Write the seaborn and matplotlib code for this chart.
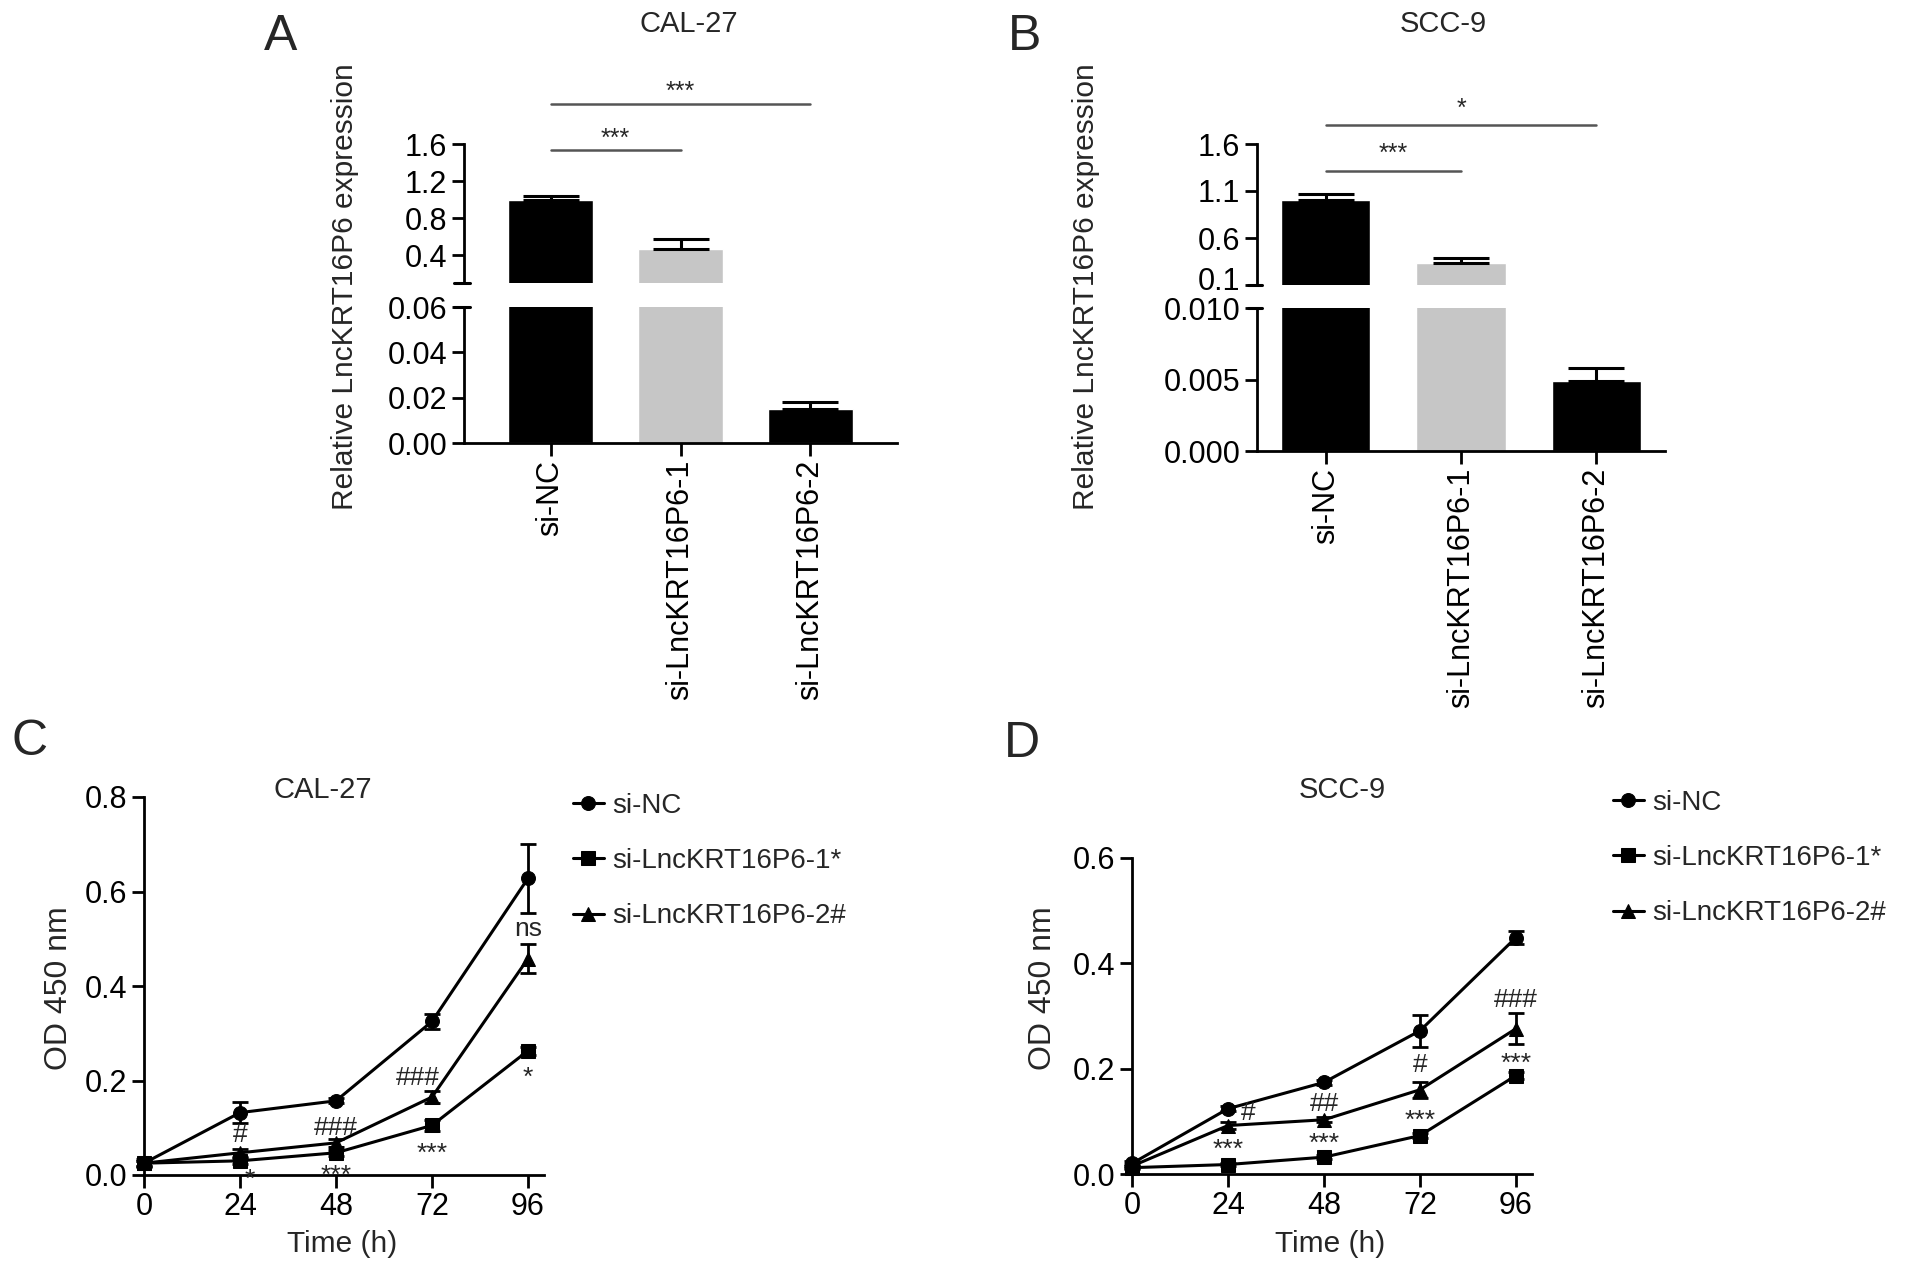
import numpy as np
import pandas as pd
import seaborn as sns
from matplotlib import pyplot as plt
from matplotlib import transforms

# --- data -------------------------------------------------------------
groups = ["si-NC", "si-LncKRT16P6-1", "si-LncKRT16P6-2"]

cal_expr = [1.0, 0.47, 0.015]
cal_expr_err = [0.035, 0.11, 0.003]
scc_expr = [1.0, 0.335, 0.0049]
scc_expr_err = [0.066, 0.055, 0.0009]

hours = [0, 24, 48, 72, 96]
series_names = ["si-NC", "si-LncKRT16P6-1*", "si-LncKRT16P6-2#"]

cal_nc = [0.025, 0.132, 0.157, 0.325, 0.628]
cal_nc_err = [0.008, 0.022, 0.005, 0.015, 0.073]
cal_kd1 = [0.025, 0.030, 0.047, 0.105, 0.263]
cal_kd1_err = [0.005, 0.006, 0.006, 0.012, 0.008]
cal_kd2 = [0.025, 0.047, 0.068, 0.165, 0.458]
cal_kd2_err = [0.005, 0.008, 0.008, 0.012, 0.030]

scc_nc = [0.020, 0.124, 0.174, 0.272, 0.449]
scc_nc_err = [0.005, 0.005, 0.005, 0.030, 0.012]
scc_kd1 = [0.012, 0.018, 0.032, 0.073, 0.187]
scc_kd1_err = [0.003, 0.003, 0.004, 0.005, 0.006]
scc_kd2 = [0.015, 0.092, 0.103, 0.160, 0.276]
scc_kd2_err = [0.004, 0.006, 0.005, 0.015, 0.030]

# significance marks on the growth curves: (hour, OD, text)
cal_marks = [(24, 0.085, "#"), (26.5, -0.010, "*"), (48, 0.100, "###"),
             (48, -0.002, "***"), (68.5, 0.205, "###"), (72, 0.045, "***"),
             (96, 0.52, "ns"), (96, 0.205, "*")]
scc_marks = [(29, 0.116, "#"), (24, 0.045, "***"), (48, 0.133, "##"),
             (48, 0.058, "***"), (72, 0.207, "#"), (72, 0.100, "***"),
             (96, 0.330, "###"), (96, 0.210, "***")]

# --- style ------------------------------------------------------------
sns.set_theme(style="ticks")
plt.rcParams["font.family"] = ["Liberation Sans", "DejaVu Sans"]
plt.rcParams["axes.linewidth"] = 2

W, H = 1913, 1272
fig = plt.figure(figsize=(W / 100, H / 100), dpi=100)


def fbox(l, t, r, b):
    return [l / W, 1 - b / H, (r - l) / W, (b - t) / H]


def style_ax(ax):
    sns.despine(ax=ax)
    ax.tick_params(direction="out", length=9, width=2, labelsize=22,
                   colors="black", pad=3)
    for s in ax.spines.values():
        s.set_linewidth(2)
        s.set_color("black")


bar_colors = ["black", "#c6c6c6", "black"]


def bar_panel(upper_box, lower_box, vals, errs, up_ticks, low_ticks, low_fmt,
              up_lim, low_lim, xlim, sig):
    axu = fig.add_axes(fbox(*upper_box))
    axl = fig.add_axes(fbox(*lower_box))
    for ax in (axu, axl):
        sns.barplot(x=groups, y=vals, hue=groups, palette=bar_colors,
                    legend=False, width=0.66, saturation=1, ax=ax)
        ax.errorbar(range(3), vals, yerr=[np.zeros(3), errs], fmt="none",
                    ecolor="black", elinewidth=2.2, capsize=20, capthick=2.2)
        ax.set_xlim(*xlim)
        ax.set_xlabel("")
        ax.set_ylabel("")
        style_ax(ax)
    axu.set_ylim(*up_lim)
    axu.set_yticks(up_ticks)
    axu.set_yticklabels([f"{t:.1f}" for t in up_ticks])
    if np.isclose(up_ticks[0], up_lim[0]):
        # lift the label sitting on the break a little off the lower segment
        low_lbl = axu.get_yticklabels()[0]
        low_lbl.set_transform(low_lbl.get_transform() +
                              transforms.ScaledTranslation(0, 5 / 72, fig.dpi_scale_trans))
    axu.spines["bottom"].set_visible(False)
    axu.tick_params(axis="x", bottom=False, labelbottom=False)
    axl.set_ylim(*low_lim)
    axl.set_yticks(low_ticks)
    axl.set_yticklabels([low_fmt.format(t) for t in low_ticks])
    axl.tick_params(axis="x", labelrotation=90, labelsize=22)
    # break marks at the ends of the split y axis
    d = 0.022
    axu.plot([-d, d * 0.6], [0, 0], transform=axu.transAxes, color="black",
             lw=2.2, clip_on=False)
    axl.plot([-d, d * 0.6], [1, 1], transform=axl.transAxes, color="black",
             lw=2.2, clip_on=False)
    for x0, x1, yl, ys, txt in sig:
        axu.plot([x0, x1], [yl, yl], color="#555555", lw=1.8, clip_on=False)
        axu.text((x0 + x1) / 2, ys, txt, ha="center", va="center",
                 fontsize=18, clip_on=False)
    return axu, axl


bar_panel((464, 144, 897, 283), (464, 307, 897, 443), cal_expr, cal_expr_err,
          [0.4, 0.8, 1.2, 1.6], [0.0, 0.02, 0.04, 0.06], "{:.2f}",
          (0.1, 1.6), (0, 0.06), (-0.667, 2.667),
          [(0, 1, 1.53, 1.66, "***"), (0, 2, 2.03, 2.16, "***")])
bar_panel((1257, 144, 1665, 285), (1257, 308, 1665, 451), scc_expr, scc_expr_err,
          [0.1, 0.6, 1.1, 1.6], [0.0, 0.005, 0.010], "{:.3f}",
          (0.1, 1.6), (0, 0.010), (-0.51, 2.51),
          [(0, 1, 1.315, 1.50, "***"), (0, 2, 1.807, 1.97, "*")])


def line_panel(box, ylim, yticks, nc, nc_err, kd1, kd1_err, kd2, kd2_err,
               marks, legend_xy):
    ax = fig.add_axes(fbox(*box))
    df = pd.DataFrame({
        "time": hours * 3,
        "od": nc + kd1 + kd2,
        "err": nc_err + kd1_err + kd2_err,
        "group": [series_names[0]] * 5 + [series_names[1]] * 5 + [series_names[2]] * 5,
    })
    sns.lineplot(data=df, x="time", y="od", hue="group", style="group",
                 markers=["o", "s", "^"], dashes=False,
                 palette=["black"] * 3, markersize=10, linewidth=2.2,
                 markeredgecolor="black", ax=ax, clip_on=False)
    for name in series_names:
        sub = df[df["group"] == name]
        ax.errorbar(sub["time"], sub["od"], yerr=sub["err"], fmt="none",
                    ecolor="black", elinewidth=2, capsize=6, capthick=2,
                    clip_on=False)
    for hx, hy, txt in marks:
        ax.text(hx, hy, txt, ha="center", va="center", fontsize=19,
                clip_on=False)
    ax.set_xlim(0, 100)
    ax.set_ylim(*ylim)
    ax.set_xticks(hours)
    ax.set_yticks(yticks)
    ax.set_yticklabels([f"{t:.1f}" for t in yticks])
    ax.set_xlabel("")
    ax.set_ylabel("")
    style_ax(ax)
    ax.legend(loc="upper left", bbox_to_anchor=legend_xy,
              bbox_transform=fig.transFigure, frameon=False, fontsize=20,
              handlelength=1.1, handletextpad=0.3, labelspacing=1.05,
              borderpad=0, borderaxespad=0)
    return ax


line_panel((144, 797, 544, 1175), (0, 0.8), [0.0, 0.2, 0.4, 0.6, 0.8],
           cal_nc, cal_nc_err, cal_kd1, cal_kd1_err, cal_kd2, cal_kd2_err,
           cal_marks, (573 / W, 1 - 793 / H))
line_panel((1132, 858, 1532, 1174), (0, 0.6), [0.0, 0.2, 0.4, 0.6],
           scc_nc, scc_nc_err, scc_kd1, scc_kd1_err, scc_kd2, scc_kd2_err,
           scc_marks, (1613 / W, 1 - 790 / H))

# --- texts ------------------------------------------------------------
def ftext(x, y, s, **kw):
    fig.text(x / W, 1 - y / H, s, **kw)


for x, y, s in [(281, 37, "A"), (1025, 37, "B"), (30, 742, "C"), (1022, 744, "D")]:
    ftext(x, y, s, fontsize=36, ha="center", va="center")
for x, y, s in [(689, 24, "CAL-27"), (1443, 24, "SCC-9"),
                (323, 790, "CAL-27"), (1342, 790, "SCC-9")]:
    ftext(x, y, s, fontsize=21, ha="center", va="center")
for x in (345, 1086):
    ftext(x, 287, "Relative LncKRT16P6 expression", fontsize=21.5,
          rotation=90, ha="center", va="center")
for x in (59, 1043):
    ftext(x, 988, "OD 450 nm", fontsize=23, rotation=90, ha="center", va="center")
for x in (342, 1330):
    ftext(x, 1244, "Time (h)", fontsize=21.5, ha="center", va="center")

fig.savefig("out.png", dpi=100, facecolor="white")
